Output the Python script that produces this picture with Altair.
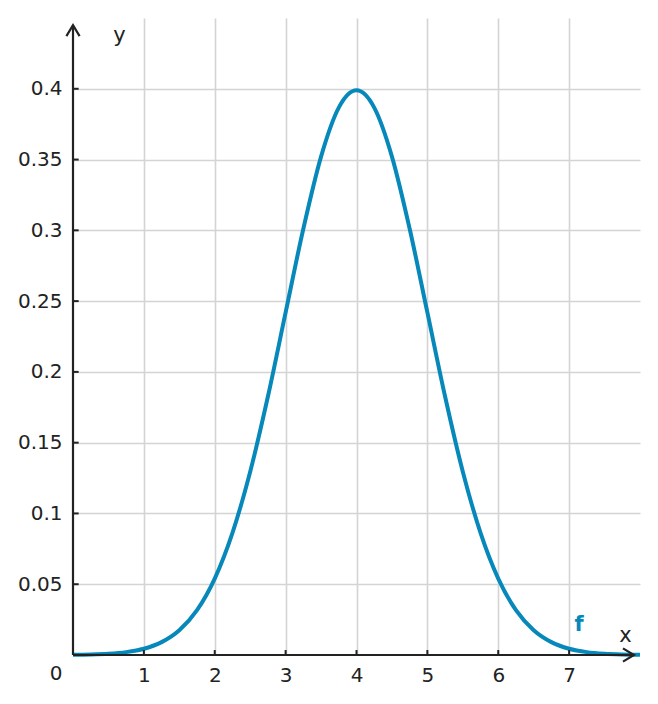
import altair as alt
import pandas as pd

# curve values (bell curve peaking at x=4)
xs = [0, 0.25, 0.5, 0.75, 1, 1.25, 1.5, 1.75, 2, 2.25, 2.5, 2.75, 3, 3.25, 3.5, 3.75,
      4, 4.25, 4.5, 4.75, 5, 5.25, 5.5, 5.75, 6, 6.25, 6.5, 6.75, 7, 7.25, 7.5, 7.75, 8]
ys = [0.00013, 0.00035, 0.00087, 0.00203, 0.00443, 0.00909, 0.0175, 0.0317, 0.0540,
      0.0863, 0.1295, 0.1826, 0.2420, 0.3011, 0.3521, 0.3867, 0.3989,
      0.3867, 0.3521, 0.3011, 0.2420, 0.1826, 0.1295, 0.0863, 0.0540,
      0.0317, 0.0175, 0.00909, 0.00443, 0.00203, 0.00087, 0.00035, 0.00013]

x_ticks = [1, 2, 3, 4, 5, 6, 7]
y_ticks = [0.05, 0.1, 0.15, 0.2, 0.25, 0.3, 0.35, 0.4]

curve = pd.DataFrame({"x": xs, "y": ys})
xt = pd.DataFrame({"t": x_ticks})
yt = pd.DataFrame({"t": y_ticks})
one = pd.DataFrame({"k": [0]})

AX = "#222222"
BLUE = "#0788BA"
FONT = "DejaVu Sans"

xscale = alt.Scale(domain=[0, 8], nice=False, zero=False)
yscale = alt.Scale(domain=[0, 0.45], nice=False, zero=False)

base = alt.Chart(curve).mark_line(color=BLUE, strokeWidth=4, interpolate="monotone").encode(
    x=alt.X("x:Q", scale=xscale,
            axis=alt.Axis(values=x_ticks, format="d", grid=True, domain=False, ticks=False,
                          labelPadding=10, labelFontSize=20, labelColor=AX, labelFont=FONT,
                          title="x", titleX=552, titleY=-20, titleAlign="center",
                          titleBaseline="middle", titleFontSize=21, titleFontWeight="normal",
                          titleColor=AX, titleFont=FONT)),
    y=alt.Y("y:Q", scale=yscale,
            axis=alt.Axis(values=y_ticks, format=".2~f", grid=True, domain=False, ticks=False,
                          labelPadding=11, labelFontSize=20, labelColor=AX, labelFont=FONT,
                          title="y", titleAngle=0, titleX=46, titleY=17, titleAlign="center",
                          titleBaseline="middle", titleFontSize=21, titleFontWeight="normal",
                          titleColor=AX, titleFont=FONT)),
)

yaxis_line = alt.Chart(one).mark_rule(color=AX, strokeWidth=2.2).encode(
    x=alt.datum(0, scale=xscale), y=alt.datum(0, scale=yscale), y2=alt.datum(0.445))
xaxis_line = alt.Chart(one).mark_rule(color=AX, strokeWidth=2.2).encode(
    x=alt.datum(0, scale=xscale), x2=alt.datum(7.915), y=alt.datum(0, scale=yscale))

chevron = "M-0.6,1L0,0L0.6,1"
yarrow = alt.Chart(one).mark_point(shape=chevron, size=484, filled=False, color=AX,
                                   strokeWidth=2.2, opacity=1).encode(
    x=alt.datum(0, scale=xscale), y=alt.datum(0.445, scale=yscale))
xarrow = alt.Chart(one).mark_point(shape=chevron, size=484, filled=False, color=AX,
                                   strokeWidth=2.2, opacity=1, angle=90).encode(
    x=alt.datum(7.915, scale=xscale), y=alt.datum(0, scale=yscale))

xtick_marks = alt.Chart(xt).mark_rule(color=AX, strokeWidth=2).encode(
    x=alt.X("t:Q", scale=xscale), y=alt.datum(0, scale=yscale), y2=alt.datum(0.0035))
ytick_marks = alt.Chart(yt).mark_rule(color=AX, strokeWidth=2).encode(
    y=alt.Y("t:Q", scale=yscale), x=alt.datum(0, scale=xscale), x2=alt.datum(0.08))

origin = alt.Chart(one).mark_text(text="0", fontSize=20, font=FONT, color=AX,
                                  dx=-17, dy=19, baseline="middle", align="center").encode(
    x=alt.datum(0, scale=xscale), y=alt.datum(0, scale=yscale))
flabel = alt.Chart(one).mark_text(text="f", fontSize=21, font=FONT, fontWeight="bold",
                                  color=BLUE, baseline="middle", align="center").encode(
    x=alt.datum(7.14, scale=xscale), y=alt.datum(0.021, scale=yscale))

chart = alt.layer(base, xtick_marks, ytick_marks, yaxis_line, xaxis_line, yarrow, xarrow,
                  origin, flabel).properties(
    width=567, height=637,
    autosize=alt.AutoSizeParams(type="none"),
    padding={"left": 73, "top": 18, "right": 18, "bottom": 49},
).configure_view(stroke=None).configure_axis(gridColor="#d4d4d4", gridWidth=1.6)

chart.save("out.html", embed_options={"renderer": "svg", "actions": False})
